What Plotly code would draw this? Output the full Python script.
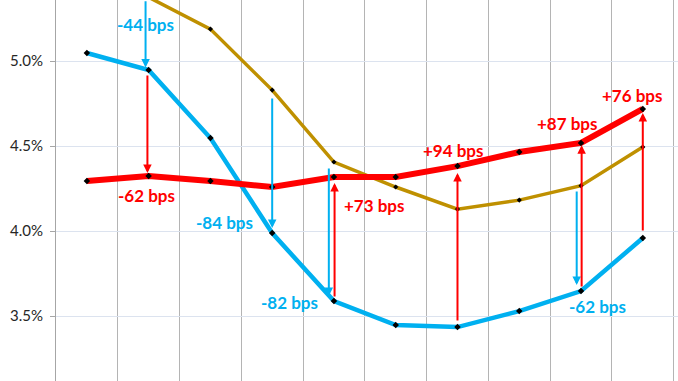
import plotly.graph_objects as go

# ---- data ----
positions = [1, 2, 3, 4, 5, 6, 7, 8, 9, 10]
red_series = [4.294, 4.324, 4.294, 4.259, 4.318, 4.318, 4.382, 4.465, 4.518, 4.718]
blue_series = [5.047, 4.947, 4.547, 3.988, 3.588, 3.447, 3.435, 3.529, 3.647, 3.959]
gold_series = [None, 5.375, 5.188, 4.829, 4.406, 4.259, 4.129, 4.182, 4.267, 4.494]

# arrows: (x_tip, y_tip, x_tail, y_tail, colour)
arrow_x = [1.95, 1.98, 4.0, 4.917, 5.01, 7.0, 8.93, 9.01, 10.0]
arrow_tail_y = [5.36, 4.924, 4.788, 4.376, 3.606, 3.465, 4.241, 3.665, 3.994]
arrow_tip_y = [4.962, 4.341, 4.018, 3.618, 4.282, 4.341, 3.682, 4.505, 4.694]
arrow_colors = ["blue", "red", "blue", "blue", "red", "red", "blue", "red", "red"]

label_texts = ["-44 bps", "-62 bps", "-84 bps", "-82 bps", "+73 bps",
               "+94 bps", "-62 bps", "+87 bps", "+76 bps"]
label_x = [1.947, 1.97, 3.234, 4.286, 5.662, 6.94, 9.271, 8.786, 9.838]
label_y = [5.212, 4.212, 4.053, 3.582, 4.153, 4.476, 3.559, 4.635, 4.80]
label_colors = ["blue", "red", "blue", "blue", "red", "red", "blue", "red", "red"]

ytick_vals = [3.5, 4.0, 4.5, 5.0]

COL = {"red": "#FF0000", "blue": "#00B0F0", "gold": "#BF9000"}
FONT = "Lato"

fig = go.Figure()
marker = dict(symbol="diamond", size=5, color="black")
fig.add_trace(go.Scatter(x=positions, y=gold_series, mode="lines+markers",
                         line=dict(color=COL["gold"], width=3.5), marker=dict(marker, size=4),
                         connectgaps=False, hoverinfo="skip"))
fig.add_trace(go.Scatter(x=positions, y=blue_series, mode="lines+markers",
                         line=dict(color=COL["blue"], width=4.5), marker=marker,
                         hoverinfo="skip"))
fig.add_trace(go.Scatter(x=positions, y=red_series, mode="lines+markers",
                         line=dict(color=COL["red"], width=6), marker=marker,
                         hoverinfo="skip"))

annotations = []
for xa, yt, ya, c in zip(arrow_x, arrow_tail_y, arrow_tip_y, arrow_colors):
    annotations.append(dict(x=xa, y=ya, ax=xa, ay=yt, xref="x", yref="y",
                            axref="x", ayref="y", text="", showarrow=True,
                            arrowhead=2, arrowsize=0.85, arrowwidth=2,
                            arrowcolor=COL[c], standoff=0, startstandoff=0))
for t, xl, yl, c in zip(label_texts, label_x, label_y, label_colors):
    annotations.append(dict(x=xl, y=yl, xref="x", yref="y", text="<b>%s</b>" % t,
                            showarrow=False, xanchor="center", yanchor="middle",
                            font=dict(family=FONT, size=17, color=COL[c])))

fig.update_layout(
    width=678, height=381,
    margin=dict(l=56, r=0, t=0, b=0),
    paper_bgcolor="white", plot_bgcolor="white",
    showlegend=False,
    annotations=annotations,
    xaxis=dict(range=[0.5, 10.57], tick0=0.5, dtick=1, showticklabels=False,
               showgrid=True, gridcolor="#B4B4B4", gridwidth=1, zeroline=False,
               ticks=""),
    yaxis=dict(range=[3.118, 5.359], tickvals=ytick_vals,
               ticktext=["%.1f%%" % v for v in ytick_vals],
               showgrid=True, gridcolor="#DCE3EF", gridwidth=1, zeroline=False,
               showline=True, linecolor="#A6A6A6", linewidth=1,
               ticks="outside", ticklen=5, tickcolor="#A6A6A6",
               ticklabelstandoff=4,
               tickfont=dict(family=FONT, size=15, color="#262626")),
)

fig.write_html("out.html", config={"displayModeBar": False},
               post_script="document.body.style.margin='0';document.body.style.padding='0';")
